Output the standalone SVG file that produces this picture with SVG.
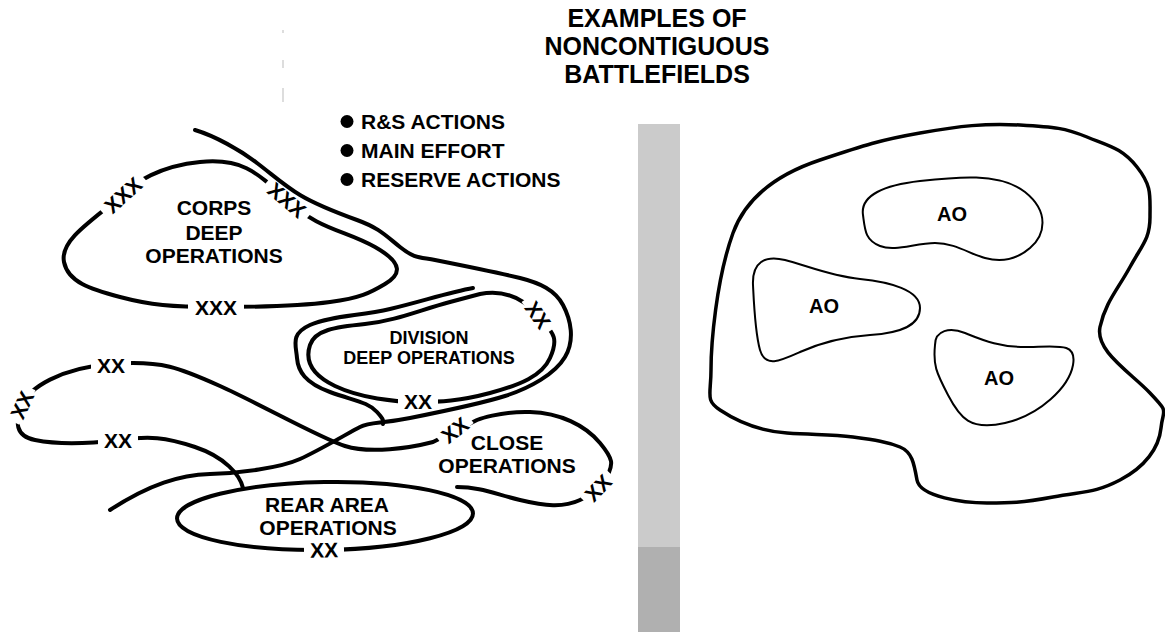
<svg xmlns="http://www.w3.org/2000/svg" width="1165" height="632" viewBox="0 0 1165 632">
<style>
.ln{fill:none;stroke:#000;stroke-width:4;stroke-linecap:round;stroke-linejoin:round}
.blob{fill:none;stroke:#000;stroke-width:3.5;stroke-linejoin:round}
.ao{fill:none;stroke:#000;stroke-width:2}
text{font-family:"Liberation Sans",Arial,Helvetica,sans-serif;font-weight:bold;fill:#000}
.lb{font-size:21px;text-anchor:middle}
.sm{font-size:18px;text-anchor:middle}
.ttl{font-size:25px;text-anchor:middle}
.it{font-size:21px}
.gap{fill:#fff}
.faint{stroke:#bbb;stroke-width:1}
</style>
<rect width="1165" height="632" fill="#fff"/>

<g id="title">
<text class="ttl" x="657" y="27">EXAMPLES OF</text>
<text class="ttl" x="657" y="55">NONCONTIGUOUS</text>
<text class="ttl" x="657" y="83">BATTLEFIELDS</text>
</g>

<g id="marks">
<line class="faint" x1="283" y1="30" x2="283" y2="33"/>
<line class="faint" x1="283" y1="60" x2="283" y2="68"/>
<line class="faint" x1="283" y1="88" x2="283" y2="102"/>
</g>

<g id="legend">
<circle cx="347" cy="121.5" r="6.5"/>
<text class="it" x="361" y="129">R&amp;S ACTIONS</text>
<circle cx="347" cy="150.5" r="6.5"/>
<text class="it" x="361" y="158">MAIN EFFORT</text>
<circle cx="347" cy="179.5" r="6.5"/>
<text class="it" x="361" y="187">RESERVE ACTIONS</text>
</g>

<g id="connectors">
<path id="boundary-long" class="ln" d="M 195,130 C 215,136 240,150 257,163 S 285,186 300,195 S 335,212 357,220 S 385,235 400,247 S 420,257 435,260 S 500,273 520,278 S 555,290 563,305 S 575,340 565,357 S 530,388 505,396 S 440,412 410,418 S 370,422 360,427 S 320,450 300,459 S 240,473 210,474 S 150,484 110,510"/>
<path id="division-boundary" class="ln" d="M 473,288 C 450,292 420,302 390,309 S 330,316 310,325 S 296,345 297,358 S 305,383 330,392 S 368,402 377,412 S 382,420 383,424"/>
<path id="xx-boundary" class="ln" d="M 243,488 C 240,475 225,457 195,447 S 150,436 118,440 S 55,444 35,440 S 15,422 22,405 S 60,368 111,364 S 180,368 220,386 S 320,438 345,446 S 410,448 433,442 L 477,420 S 500,411 530,412 S 585,425 600,443 S 612,465 608,475 S 597,492 580,500 S 545,506 520,500 S 480,487 457,487"/>
</g>

<g id="corps-deep">
<path class="ln" d="M 123,195 C 135,182 160,166 200,162 S 255,170 287,200 S 345,230 375,247 S 400,275 385,284 S 360,298 330,302 S 260,307 216,307 S 150,305 120,297 S 68,282 64,262 S 85,225 123,195 Z"/>
<text class="lb" x="214" y="215">CORPS</text>
<text class="lb" x="214" y="240">DEEP</text>
<text class="lb" x="214" y="263">OPERATIONS</text>
<g transform="translate(123,195) rotate(-42)"><rect class="gap" x="-27" y="-6" width="54" height="12"/><text class="lb" y="7.5">XXX</text></g>
<g transform="translate(287,200) rotate(40)"><rect class="gap" x="-27" y="-6" width="54" height="12"/><text class="lb" y="7.5">XXX</text></g>
<g transform="translate(216,307)"><rect class="gap" x="-28" y="-6" width="56" height="12"/><text class="lb" y="7.5">XXX</text></g>
</g>

<g id="division-deep">
<path class="ln" d="M 418,402 C 395,402 360,398 335,386 S 305,360 310,345 S 335,327 365,324 S 420,310 450,302 S 480,294 480,294 C 500,290 520,295 538,315 S 558,340 550,358 S 520,385 490,393 S 440,402 418,402 Z"/>
<text class="sm" x="429" y="344">DIVISION</text>
<text class="sm" x="429" y="364">DEEP OPERATIONS</text>
<g transform="translate(418,401)"><rect class="gap" x="-20" y="-6" width="40" height="12"/><text class="lb" y="7.5">XX</text></g>
<g transform="translate(538,315) rotate(55)"><rect class="gap" x="-20" y="-6" width="40" height="12"/><text class="lb" y="7.5">XX</text></g>
</g>

<g id="xx-labels">
<g transform="translate(111,365)"><rect class="gap" x="-20" y="-6" width="40" height="12"/><text class="lb" y="7.5">XX</text></g>
<g transform="translate(22,405) rotate(-65)"><rect class="gap" x="-19" y="-6" width="38" height="12"/><text class="lb" y="7.5">XX</text></g>
<g transform="translate(118,440)"><rect class="gap" x="-20" y="-6" width="40" height="12"/><text class="lb" y="7.5">XX</text></g>
</g>

<g id="close-ops">
<text class="lb" x="507" y="450">CLOSE</text>
<text class="lb" x="507" y="473">OPERATIONS</text>
<g transform="translate(455,430) rotate(-38)"><rect class="gap" x="-19" y="-6" width="38" height="12"/><text class="lb" y="7.5">XX</text></g>
<g transform="translate(598,488) rotate(-46)"><rect class="gap" x="-19" y="-6" width="38" height="12"/><text class="lb" y="7.5">XX</text></g>
</g>

<g id="rear-area">
<ellipse class="ln" cx="325" cy="516" rx="148" ry="34" transform="rotate(-1 325 516)"/>
<text class="lb" x="327" y="512">REAR AREA</text>
<text class="lb" x="328" y="535">OPERATIONS</text>
<g transform="translate(324,550) rotate(-1)"><rect class="gap" x="-20" y="-6" width="40" height="12"/><text class="lb" y="7.5">XX</text></g>
</g>

<g id="divider">
<rect x="638" y="124" width="42" height="423" fill="#cbcbcb"/>
<rect x="638" y="547" width="42" height="85" fill="#b0b0b0"/>
</g>

<g id="noncontiguous">
<path class="blob" d="M 733,233 C 745,200 775,175 820,160 S 880,140 920,133 S 985,123 1020,125 S 1065,128 1087,137 S 1122,148 1137,167 S 1150,195 1150,217 S 1142,245 1130,267 S 1105,303 1100,327 S 1130,372 1150,393 S 1163,408 1161,428 S 1145,467 1120,480 S 1085,491 1053,497 S 1010,503 987,503 S 920,497 917,480 S 912,452 900,447 S 875,440 853,437 S 815,435 787,433 S 735,420 720,410 S 711,395 711,370 S 716,280 733,233 Z"/>
<g id="ao-1">
<path class="ao" d="M 863,215 C 860,195 885,185 920,181 S 1000,172 1025,192 S 1045,235 1030,248 S 1000,262 985,258 S 955,243 935,243 S 895,252 880,246 S 865,230 863,215 Z"/>
<text class="lb" style="font-size:20px" x="952" y="221">AO</text>
</g>
<g id="ao-2">
<path class="ao" d="M 753,285 C 752,262 765,255 785,260 S 830,276 860,279 S 920,290 920,308 S 900,333 870,335 S 820,343 800,352 S 765,368 760,350 S 754,305 753,285 Z"/>
<text class="lb" style="font-size:20px" x="824" y="313">AO</text>
</g>
<g id="ao-3">
<path class="ao" d="M 935,345 C 935,330 950,327 965,333 S 1000,348 1030,347 S 1077,343 1073,365 S 1040,415 1005,423 S 960,418 948,395 S 933,365 935,345 Z"/>
<text class="lb" style="font-size:20px" x="999" y="385">AO</text>
</g>
</g>
</svg>
